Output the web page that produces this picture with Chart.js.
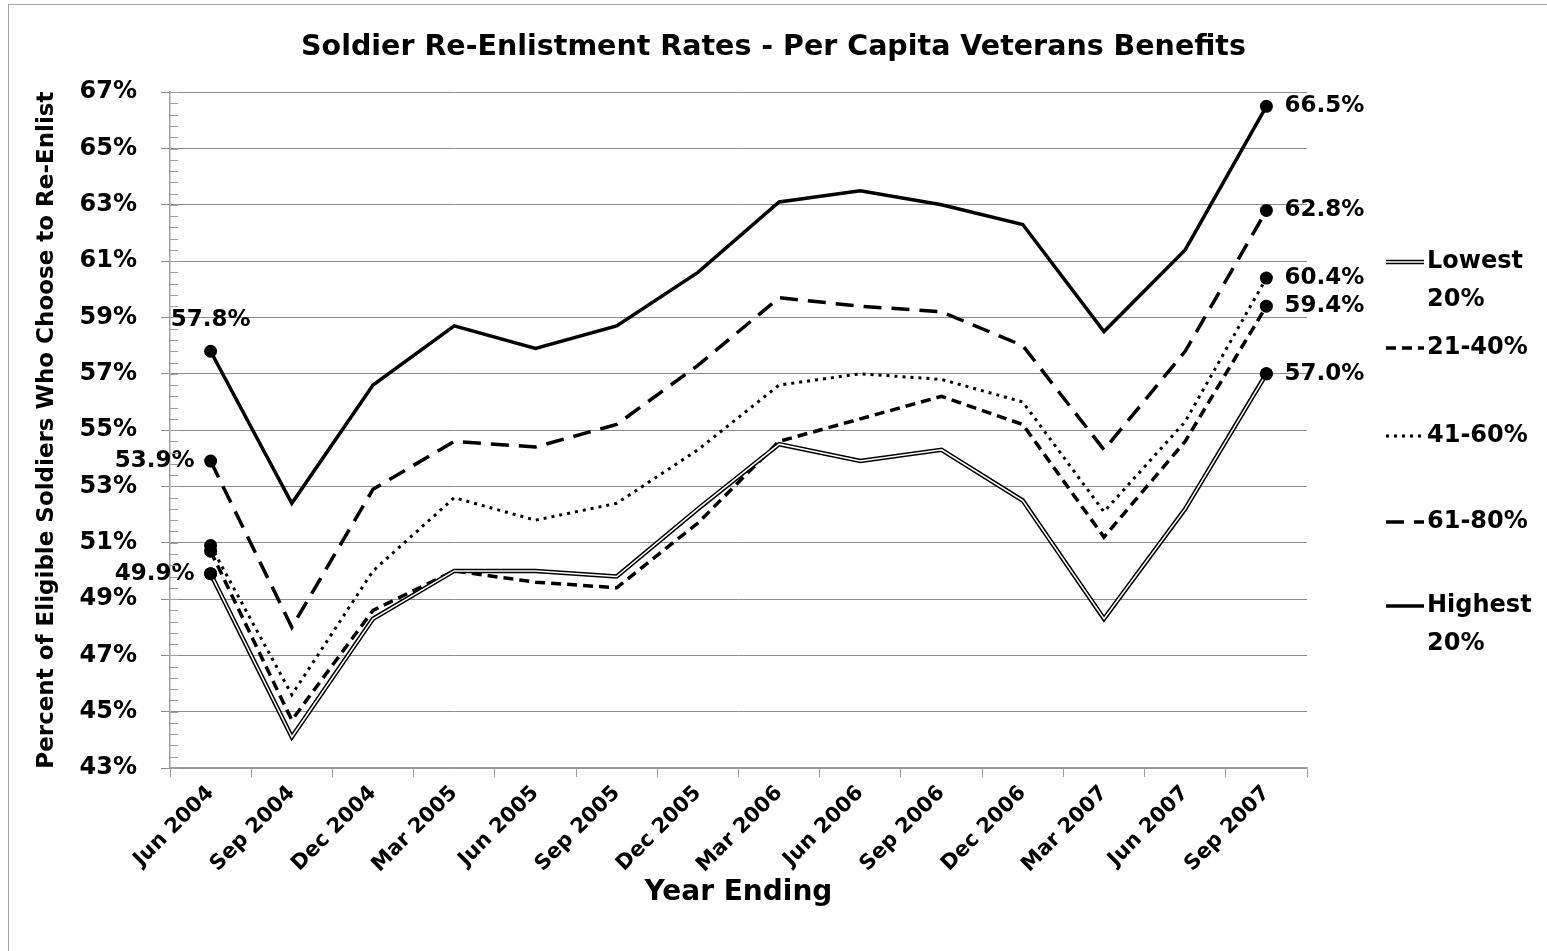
<!DOCTYPE html>
<html>
<head>
<meta charset="utf-8">
<title>Soldier Re-Enlistment Rates</title>
<script src="https://cdn.jsdelivr.net/npm/chart.js@4.4.1/dist/chart.umd.min.js"></script>
<style>
  html, body { margin: 0; padding: 0; background: #fff; }
  #wrap { width: 1547px; height: 951px; position: relative; }
</style>
</head>
<body>
<div id="wrap"><canvas id="myChart"></canvas></div>
<script>
const categories = ["Jun 2004", "Sep 2004", "Dec 2004", "Mar 2005", "Jun 2005", "Sep 2005", "Dec 2005",
                    "Mar 2006", "Jun 2006", "Sep 2006", "Dec 2006", "Mar 2007", "Jun 2007", "Sep 2007"];

const seriesNames = ["Lowest 20%", "21-40%", "41-60%", "61-80%", "Highest 20%"];

const lowest   = [49.9, 44.1, 48.3, 50.0, 50.0, 49.8, 52.2, 54.5, 53.9, 54.3, 52.5, 48.3, 52.2, 57.0];
const pct21_40 = [50.7, 44.7, 48.6, 50.0, 49.6, 49.4, 51.7, 54.6, 55.4, 56.2, 55.2, 51.2, 54.6, 59.4];
const pct41_60 = [50.9, 45.6, 50.0, 52.6, 51.8, 52.4, 54.3, 56.6, 57.0, 56.8, 56.0, 52.1, 55.3, 60.4];
const pct61_80 = [53.9, 48.0, 52.9, 54.6, 54.4, 55.2, 57.3, 59.7, 59.4, 59.2, 58.0, 54.3, 57.8, 62.8];
const highest  = [57.8, 52.4, 56.6, 58.7, 57.9, 58.7, 60.6, 63.1, 63.5, 63.0, 62.3, 58.5, 61.4, 66.5];

const yMin = 43, yMax = 67, yStep = 2, yMinorStep = 0.4;

const FONT = '"DejaVu Sans", sans-serif';
const gridColor = '#8c8c8c';
const axisColor = '#a0a0a0';

// big dot only on the first and last point of each line
const lastIdx = categories.length - 1;
const endMarker = c => (c.dataIndex === 0 || c.dataIndex === lastIdx) ? 6.5 : 0;

function lineSet(label, data, extra) {
  return Object.assign({
    label: label,
    data: data,
    borderColor: '#000',
    borderWidth: 3.5,
    tension: 0,
    fill: false,
    pointRadius: endMarker,
    pointHoverRadius: 0,
    pointBackgroundColor: '#000',
    pointBorderColor: '#000',
    pointBorderWidth: 0,
    order: 2
  }, extra || {});
}

const datasets = [
  lineSet(seriesNames[0], lowest, { borderWidth: 4.5, ends: { first: 'left', last: 'right' } }),
  // white core of the double line
  lineSet('', lowest, { borderColor: '#fff', borderWidth: 1.5, order: 1, inner: true }),
  lineSet(seriesNames[1], pct21_40, { borderDash: [10, 6], ends: { last: 'right' } }),
  lineSet(seriesNames[2], pct41_60, { borderWidth: 3, borderDash: [3, 5], ends: { last: 'right' } }),
  lineSet(seriesNames[3], pct61_80, { borderDash: [18, 10], ends: { first: 'left', last: 'right' } }),
  lineSet(seriesNames[4], highest, { ends: { first: 'top', last: 'right' } })
];

// value labels next to the end markers
const pointLabels = {
  id: 'pointLabels',
  afterDatasetsDraw(chart) {
    const ctx = chart.ctx;
    ctx.save();
    ctx.font = 'bold 23px ' + FONT;
    ctx.fillStyle = '#000';
    ctx.textBaseline = 'middle';
    chart.data.datasets.forEach((ds, i) => {
      if (!ds.ends) return;
      const meta = chart.getDatasetMeta(i);
      [['first', 0], ['last', lastIdx]].forEach(([key, idx]) => {
        const where = ds.ends[key];
        if (!where) return;
        const pt = meta.data[idx];
        const txt = ds.data[idx].toFixed(1) + '%';
        if (where === 'top') {
          ctx.textAlign = 'center';
          ctx.fillText(txt, pt.x, pt.y - 31);
        } else if (where === 'left') {
          ctx.textAlign = 'right';
          ctx.fillText(txt, pt.x - 16, pt.y);
        } else {
          ctx.textAlign = 'left';
          ctx.fillText(txt, pt.x + 18, pt.y);
        }
      });
    });
    ctx.restore();
  }
};

// small inside ticks on the value axis
const minorTicks = {
  id: 'minorTicks',
  afterDraw(chart) {
    const y = chart.scales.y;
    const x0 = chart.chartArea.left;
    const ctx = chart.ctx;
    ctx.save();
    ctx.strokeStyle = axisColor;
    ctx.lineWidth = 1;
    ctx.beginPath();
    for (let v = yMin; v <= yMax + 1e-6; v += yMinorStep) {
      const py = Math.round(y.getPixelForValue(v)) + 0.5;
      ctx.moveTo(x0, py);
      ctx.lineTo(x0 + 8, py);
    }
    ctx.stroke();
    ctx.restore();
  }
};

// legend on the right, line samples drawn with each dataset's own style
const sideLegend = {
  id: 'sideLegend',
  afterDraw(chart) {
    const ctx = chart.ctx;
    const rows = [262, 348, 436, 522, 606];
    const x1 = 1386, x2 = 1424;
    ctx.save();
    ctx.font = 'bold 24px ' + FONT;
    ctx.fillStyle = '#000';
    ctx.textBaseline = 'middle';
    ctx.textAlign = 'left';
    const shown = chart.data.datasets.filter(d => d.label && !d.inner);
    shown.forEach((ds, k) => {
      const yy = rows[k];
      ctx.save();
      ctx.strokeStyle = '#000';
      ctx.lineWidth = ds.borderWidth;
      ctx.setLineDash(ds.borderDash || []);
      ctx.beginPath();
      ctx.moveTo(x1, yy);
      ctx.lineTo(x2, yy);
      ctx.stroke();
      if (k === 0) {
        ctx.strokeStyle = '#fff';
        ctx.lineWidth = 1.5;
        ctx.beginPath();
        ctx.moveTo(x1, yy);
        ctx.lineTo(x2, yy);
        ctx.stroke();
      }
      ctx.restore();
      const sp = ds.label.lastIndexOf(' ');
      const lines = sp > 0 ? [ds.label.slice(0, sp), ds.label.slice(sp + 1)] : [ds.label];
      lines.forEach((t, j) => ctx.fillText(t, x2 + 3, yy + j * 38));
    });
    ctx.restore();
  }
};

const frame = {
  id: 'frame',
  afterDraw(chart) {
    const ctx = chart.ctx;
    ctx.save();
    ctx.strokeStyle = '#a6a6a6';
    ctx.lineWidth = 1;
    ctx.strokeRect(8.5, 4.5, 1560, 980);
    ctx.restore();
  }
};

new Chart("myChart", {
  type: "line",
  data: {
    labels: categories,
    datasets: datasets
  },
  options: {
    responsive: true,
    maintainAspectRatio: false,
    animation: false,
    layout: { padding: { top: 10, right: 20, bottom: 16, left: 20 } },
    plugins: {
      legend: { display: false },
      tooltip: { enabled: false },
      title: {
        display: true,
        text: "Soldier Re-Enlistment Rates - Per Capita Veterans Benefits",
        color: '#000',
        font: { family: FONT, size: 28.5, weight: 'bold' },
        padding: { top: 20, bottom: 28 }
      }
    },
    scales: {
      x: {
        offset: true,
        grid: { display: true, drawOnChartArea: false, offset: true, tickLength: 9, color: axisColor },
        border: { color: axisColor, width: 1.5 },
        ticks: {
          autoSkip: false,
          maxRotation: 45,
          minRotation: 45,
          color: '#000',
          padding: 4,
          font: { family: FONT, size: 21, weight: 'bold' }
        },
        title: {
          display: true,
          text: "Year Ending",
          color: '#000',
          font: { family: FONT, size: 28, weight: 'bold' },
          padding: { top: 0, bottom: 25 }
        },
        afterFit: s => { s.height = 167; }
      },
      y: {
        min: yMin,
        max: yMax,
        grid: { color: gridColor, tickLength: 9 },
        border: { color: axisColor, width: 1.5 },
        ticks: {
          stepSize: yStep,
          color: '#000',
          padding: 24,
          font: { family: FONT, size: 24, weight: 'bold' },
          callback: v => v + '%'
        },
        title: {
          display: true,
          text: "Percent of Eligible Soldiers Who Choose to Re-Enlist",
          color: '#000',
          font: { family: FONT, size: 23, weight: 'bold' },
          padding: { top: 13, bottom: 0 }
        },
        afterFit: s => { s.width = 150; }
      },
      // empty right-hand box that keeps room for the labels and legend
      side: {
        position: 'right',
        grid: { display: false },
        border: { display: false },
        ticks: { display: false },
        afterFit: s => { s.width = 220; }
      }
    }
  },
  plugins: [pointLabels, minorTicks, sideLegend, frame]
});
</script>
</body>
</html>
